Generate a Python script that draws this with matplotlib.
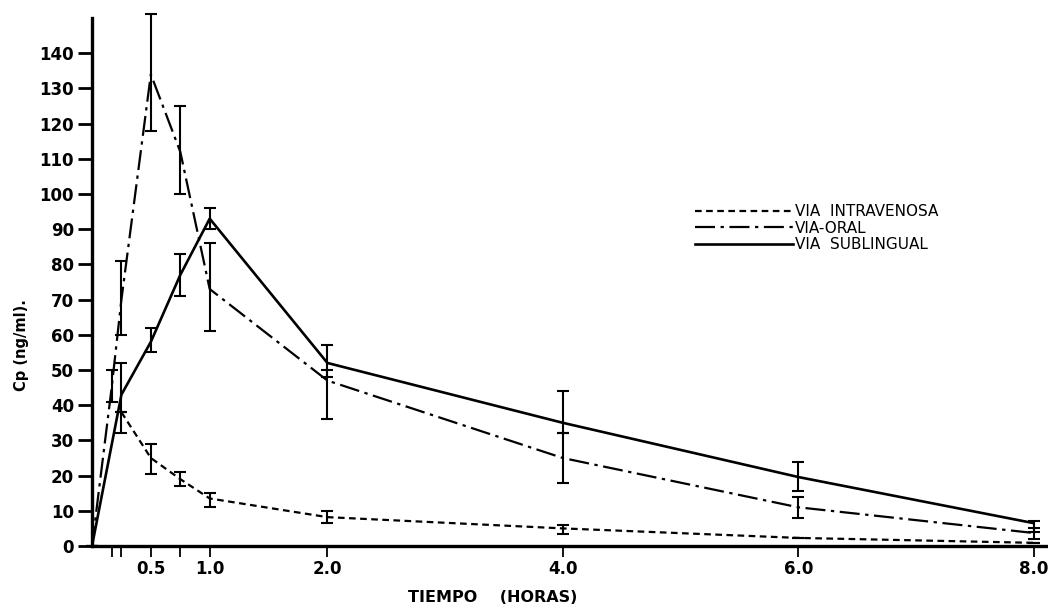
import matplotlib
matplotlib.use("Agg")
import matplotlib.pyplot as plt
import numpy as np

plt.rcParams['font.family'] = ['DejaVu Sans']

# ---- data ----
t_iv = [0.25, 0.5, 0.75, 1.0, 2.0, 4.0, 6.0, 8.0]
iv = [38, 25, 19, 13.5, 8.2, 5.0, 2.3, 0.9]
iv_low = [38, 20.5, 17, 11, 6.5, 3.5, 2.3, 0.9]
iv_high = [38, 29, 21, 15, 10, 6, 2.3, 0.9]

t_oral = [0, 0.167, 0.25, 0.5, 0.75, 1.0, 2.0, 4.0, 6.0, 8.0]
oral = [0, 45, 70, 134, 112, 73, 47, 25, 11, 3.7]
oral_low = [0, 41, 60, 118, 100, 61, 36, 18, 8, 2]
oral_high = [0, 50, 81, 151, 125, 86, 50, 32, 14, 5]

t_sub = [0, 0.25, 0.5, 0.75, 1.0, 2.0, 4.0, 6.0, 8.0]
sub = [0, 43, 58, 77, 93, 52, 35, 19.6, 6.5]
sub_low = [0, 32, 55, 71, 90, 48, 32, 15.5, 4]
sub_high = [0, 52, 62, 83, 96, 57, 44, 24, 7]

x_ticks = [0.167, 0.25, 0.5, 0.75, 1.0, 2.0, 4.0, 6.0, 8.0]
x_ticklabels = ['', '', '0.5', '', '1.0', '2.0', '4.0', '6.0', '8.0']
y_ticks = list(range(0, 150, 10))

labels = ['VIA  INTRAVENOSA', 'VIA-ORAL', 'VIA  SUBLINGUAL']

# ---- figure ----
fig = plt.figure(figsize=(10.48, 6.08), dpi=100)
ax = fig.add_axes([92/1048, 1-546/608, 1-92/1048, (546-18)/608])
ax.set_xlim(0, (1048-92)/117.7)
ax.set_ylim(0, 150)

def yerr(v, lo, hi):
    return [np.array(v) - np.array(lo), np.array(hi) - np.array(v)]

def draw_err(t, v, lo, hi):
    eb = ax.errorbar(t, v, yerr=yerr(v, lo, hi), fmt='none', ecolor='black',
                     elinewidth=1.5, capsize=4, capthick=1.5)
    for art in eb.lines[1] + eb.lines[2]:
        art.set_clip_on(False)
    for art in eb.lines[2]:
        art.set_clip_on(False)

lw = 1.6
h1, = ax.plot(t_iv, iv, color='black', lw=lw, linestyle=(0, (3, 2)))
draw_err(t_iv, iv, iv_low, iv_high)
h2, = ax.plot(t_oral, oral, color='black', lw=lw, linestyle=(0, (9, 2.5, 1.5, 2.5)))
draw_err(t_oral, oral, oral_low, oral_high)
h3, = ax.plot(t_sub, sub, color='black', lw=lw + 0.3, linestyle='-')
draw_err(t_sub, sub, sub_low, sub_high)

for s in ['top', 'right']:
    ax.spines[s].set_visible(False)
for s in ['left', 'bottom']:
    ax.spines[s].set_linewidth(2.4)

ax.set_xticks(x_ticks)
ax.set_xticklabels(x_ticklabels)
ax.set_yticks(y_ticks)
ax.set_yticklabels([str(v) for v in y_ticks])
ax.tick_params(axis='x', direction='out', length=8, width=1.3, pad=2, labelsize=12)
ax.tick_params(axis='y', direction='out', length=10, width=2.0, pad=3, labelsize=12)
for lab in ax.get_xticklabels() + ax.get_yticklabels():
    lab.set_fontweight('bold')

leg = ax.legend([h1, h2, h3], labels, loc='upper left',
                bbox_to_anchor=(695/1048, 1-204/608), bbox_transform=fig.transFigure,
                frameon=False, fontsize=11, handlelength=6.4, handletextpad=0.15,
                labelspacing=0.1, borderpad=0, borderaxespad=0)

fig.text(493/1048, 1-597/608, 'TIEMPO    (HORAS)', ha='center', va='center',
         fontsize=11.5, fontweight='bold')
fig.text(22/1048, 1-345/608, 'Cp (ng/ml).', ha='center', va='center',
         rotation=90, fontsize=10.5, fontweight='bold')

fig.savefig('out.png', dpi=100)
